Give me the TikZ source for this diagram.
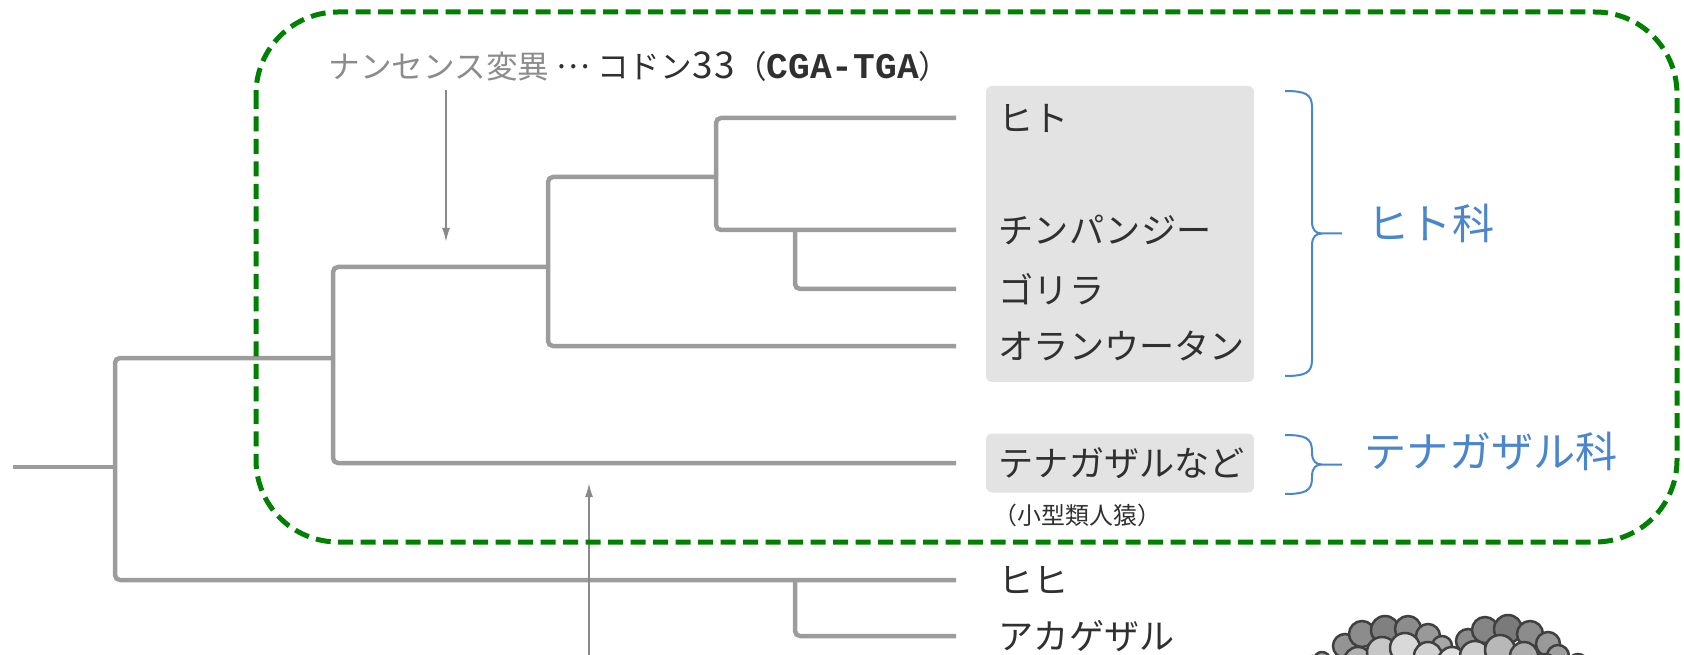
\documentclass[tikz,border=0pt]{standalone}
\usepackage{fontspec}
\setmainfont{Noto Sans CJK JP}
\newfontfamily\codonfont{Liberation Mono}
\usetikzlibrary{arrows.meta,positioning}
\definecolor{treegray}{HTML}{9C9C9C}
\definecolor{arrowgray}{HTML}{8A8A8A}
\definecolor{labelgray}{HTML}{303030}
\definecolor{mutgray}{HTML}{8C8C8C}
\definecolor{boxgray}{HTML}{E3E3E3}
\definecolor{familyblue}{HTML}{4A86CC}
\definecolor{apegreen}{HTML}{008000}

% right-hand curly brace between two heights (top, bottom)
\newcommand{\familybrace}[2]{%
  \pgfmathsetmacro{\bracemid}{(#1+#2)/2}
  \draw[brace line] (1285,#1) .. controls (1305,#1) and (1312,#1+3) .. (1312,#1+16)
    -- (1312,\bracemid-12) .. controls (1312,\bracemid-3) and (1316,\bracemid) .. (1322,\bracemid)
    -- (1342,\bracemid)
    (1322,\bracemid) .. controls (1316,\bracemid) and (1312,\bracemid+3) .. (1312,\bracemid+12)
    -- (1312,#2-16) .. controls (1312,#2-3) and (1305,#2) .. (1285,#2);}
% centred ellipsis
\newcommand{\midellipsis}{\raisebox{0.3em}{…}}

\begin{document}
\begin{tikzpicture}[
  x=0.1mm, y=-0.1mm,
  font=\fontsize{10pt}{12pt}\selectfont,
  branch/.style={line width=0.45mm, draw=treegray, rounded corners=0.5mm},
  pointer/.style={-{Latex[length=1.4mm,width=0.8mm]}, line width=0.18mm, draw=arrowgray},
  leaf/.style={inner sep=0pt, text=labelgray},
  shadebox/.style={fill=boxgray, rounded corners=0.6mm, inner sep=0pt},
  family/.style={anchor=west, inner sep=0pt, text=familyblue, font=\fontsize{12pt}{14pt}\selectfont},
  brace line/.style={draw=familyblue, line width=0.2mm},
  apeframe/.style={draw=apegreen, line width=0.5mm, dash pattern=on 1.5mm off 0.75mm, rounded corners=8.2mm}
]
\useasboundingbox (0,0) rectangle (1684,655);

% grey panels behind the ape names
\node[shadebox, minimum width=26.8mm, minimum height=29.6mm] (hominidbox) at (1120,234) {};
\node[shadebox, minimum width=26.8mm, minimum height=5.9mm] (gibbonbox) at (1120,463) {};

% branch tips
\coordinate (hito-e)    at (956,118);
\coordinate (chimp-e)   at (956,230);
\coordinate (gorilla-e) at (956,289);
\coordinate (orang-e)   at (956,346);
\coordinate (gibbon-e)  at (956,463);
\coordinate (hihi-e)    at (956,580);
\coordinate (rhesus-e)  at (956,636);
\coordinate (root-e)    at (13,467);

% inner junctions
\coordinate (jA) at (115,467);
\coordinate (jB) at (333,358);
\coordinate (jC) at (548,267);
\coordinate (jD) at (716,177);
\coordinate (jE) at (795,230);
\coordinate (jF) at (795,580);

\node[leaf, right=4.2mm of hito-e]    (hito)    {ヒト};
\node[leaf, right=4.2mm of chimp-e]   (chimp)   {チンパンジー};
\node[leaf, right=4.2mm of gorilla-e] (gorilla) {ゴリラ};
\node[leaf, right=4.2mm of orang-e]   (orang)   {オランウータン};
\node[leaf, right=4.2mm of gibbon-e]  (gibbon)  {テナガザルなど};
\node[leaf, right=4.2mm of hihi-e]    (hihi)    {ヒヒ};
\node[leaf, right=4.2mm of rhesus-e]  (rhesus)  {アカゲザル};
\node[leaf, anchor=west, font=\fontsize{6.8pt}{8pt}\selectfont] (lesserape) at (993,515) {（小型類人猿）};

% tree
\draw[branch] (hito-e) -| (jD) |- (chimp-e);
\draw[branch] (jE) |- (gorilla-e);
\draw[branch] (jD) -| (jC) |- (orang-e);
\draw[branch] (jC) -| (jB) |- (gibbon-e);
\draw[branch] (jB) -| (jA) |- (hihi-e);
\draw[branch] (jF) |- (rhesus-e);
\draw[branch] (root-e) -- (jA);

% mutation marks
\node[anchor=west, inner sep=0pt, text=labelgray, font=\fontsize{9pt}{11pt}\selectfont] (nonsense) at (328,66)
  {\textcolor{mutgray}{ナンセンス変異} \midellipsis{} コドン{\fontsize{10.5pt}{11pt}\selectfont 3\kern0.6pt3}（{\codonfont\bfseries\fontsize{10.3pt}{11pt}\selectfont CGA-TGA}）};
\coordinate (codon-top) at (446,90);
\coordinate (codon-tip) at (446,242);
\draw[pointer] (codon-top) -- (codon-tip);
\coordinate (lower-tail) at (589,660);
\coordinate (lower-tip)  at (589,483);
\draw[pointer] (lower-tail) -- (lower-tip);

% families
\familybrace{91}{376}
\familybrace{435}{494}
\node[family] (hominidae) at (1367,223) {ヒト科};
\node[family] (hylobatidae) at (1364,451) {テナガザル科};

% apes
\draw[apeframe] (256,12) rectangle (1677,542);

% protein model
\begin{scope}
  \clip (0,0) rectangle (1684,655);
  \begin{scope}[shift={(0,16)}]
  \foreach \px/\py/\pr/\pg in {
    1322/644/8/35, 1313/650/10/42, 1570/653/8/35, 1578/648/10/42,
    1345/630/12/42, 1362/618/13/45, 1385/614/14/50, 1408/613/13/45, 1428/620/12/40, 1442/630/10/35,
    1468/625/12/45, 1485/614/13/48, 1508/613/14/52, 1530/618/13/45, 1548/628/12/40, 1558/640/11/38,
    1358/645/14/30, 1382/636/15/22, 1405/632/15/15, 1428/640/14/18, 1452/645/14/12,
    1475/640/15/20, 1500/634/15/28, 1524/640/14/32, 1545/650/12/35}
    \filldraw[fill=black!\pg, draw=black!75, line width=0.25mm] (\px,\py) circle[radius=\pr];
  \end{scope}
\end{scope}
\end{tikzpicture}
\end{document}
